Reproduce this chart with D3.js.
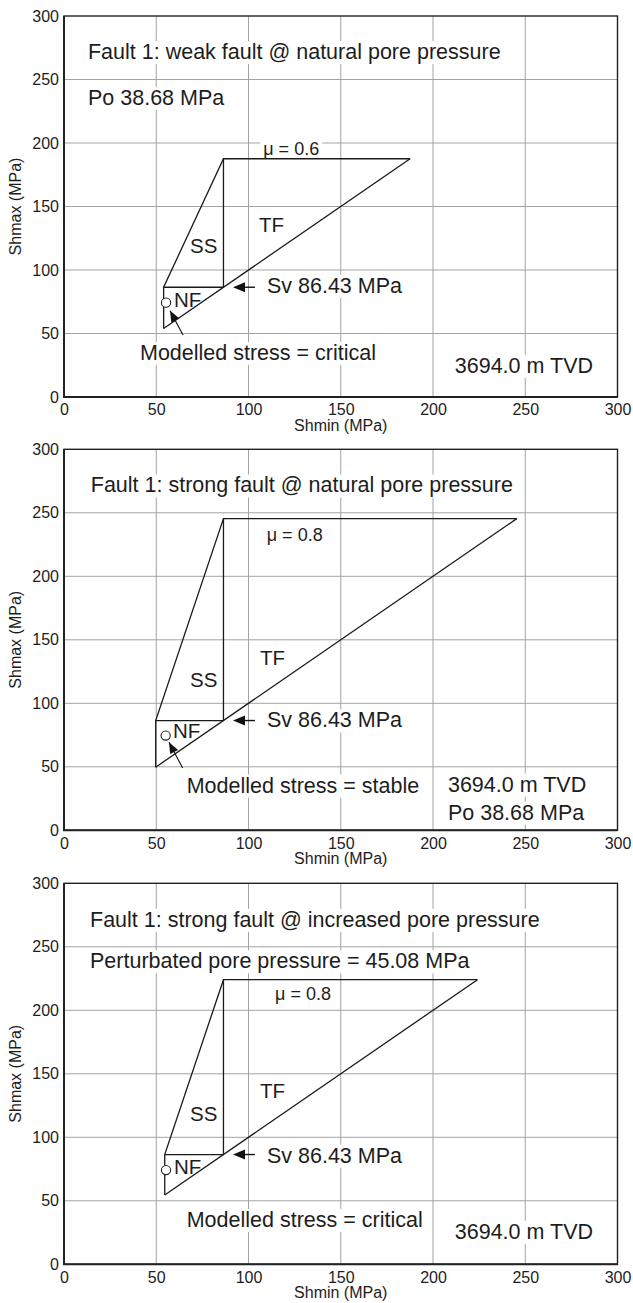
<!DOCTYPE html>
<html>
<head>
<meta charset="utf-8">
<script src="https://cdn.jsdelivr.net/npm/d3@7"></script>
<style>
  html, body { margin: 0; padding: 0; background: #ffffff; }
  svg text { font-family: "Liberation Sans", Arial, Helvetica, sans-serif; fill: #1d1d1d; }
</style>
</head>
<body>
<svg id="chart" width="633" height="1303"></svg>
<script>
// ---- data ----
const axisTicks = [0, 50, 100, 150, 200, 250, 300];
const panelTitles = [
  "Fault 1: weak fault @ natural pore pressure",
  "Fault 1: strong fault @ natural pore pressure",
  "Fault 1: strong fault @ increased pore pressure"
];
const frictionCoefficients = [0.6, 0.8, 0.8];
const porePressureNotes = [
  "Po 38.68 MPa",
  "Po 38.68 MPa",
  "Perturbated pore pressure = 45.08 MPa"
];
const verticalStress = 86.43;                 // Sv, MPa
const shminLowerLimit = [54.0, 49.7, 54.6];   // frictional limit, normal faulting
const shmaxUpperLimit = [187.6, 245.4, 224.1];// frictional limit, thrust faulting
const modelledShmin = [55.3, 55.1, 55.3];
const modelledShmax = [74.3, 74.6, 74.2];
const stressStates = ["critical", "stable", "critical"];
const depthLabel = "3694.0 m TVD";
const regimeNames = ["NF", "SS", "TF"];

// ---- layout (plot frames and label anchors in MPa units) ----
const plotLeft = 64, plotRight = 617.5, plotHeight = 381;
const panelTops = [16, 449.3, 883.3];
const labelAnchors = [
  { title: [13, 266], pore: [13, 230], mu: [108, 190.6], TF: [105.7, 130], SS: [68.3, 113.4], NF: [59.6, 71.1],
    sv: [110, 82], model: [41.2, 29.1], modelArrow: [[64.5, 48.8], [57.5, 68.0]], depth: [211.8, 18.9] },
  { title: [14.5, 266], pore: [208.1, 8.4], mu: [109.9, 227.6], TF: [106.2, 130.5], SS: [68.3, 113.1], NF: [59.1, 73],
    sv: [110, 81], model: [66.5, 29.7], modelArrow: [[64.3, 49.1], [56.9, 69.3]], depth: [208.1, 30.5] },
  { title: [14.1, 265.7], pore: [14.1, 233.1], mu: [114.4, 207.9], TF: [106.2, 131.3], SS: [68.3, 113.1], NF: [59.6, 71.3],
    sv: [110, 80], model: [66.5, 29.4], modelArrow: null, depth: [211.8, 20] }
];
const svArrowShmin = [103.5, 91.6]; // tail, tip

const svg = d3.select("#chart");
svg.append("rect").attr("width", 633).attr("height", 1303).attr("fill", "#ffffff");

function arrowHead(g, x1, y1, x2, y2, len, half) {
  const ang = Math.atan2(y2 - y1, x2 - x1);
  const bx = x2 - len * Math.cos(ang), by = y2 - len * Math.sin(ang);
  const px = -Math.sin(ang) * half, py = Math.cos(ang) * half;
  g.append("path")
    .attr("d", `M${x2},${y2}L${bx + px},${by + py}L${bx - px},${by - py}Z`)
    .attr("fill", "#111");
}

panelTops.forEach((top, i) => {
  const x = d3.scaleLinear().domain([0, 300]).range([plotLeft, plotRight]);
  const y = d3.scaleLinear().domain([0, 300]).range([top + plotHeight, top]);
  const g = svg.append("g");
  const gridLayer = g.append("g");
  const bgLayer = g.append("g");
  const markLayer = g.append("g");
  const frameLayer = g.append("g");
  const textLayer = g.append("g");

  // grid
  gridLayer.selectAll(".gx").data(axisTicks.slice(1, -1)).join("line")
    .attr("x1", d => x(d)).attr("x2", d => x(d))
    .attr("y1", y(0)).attr("y2", y(300))
    .attr("stroke", "#a3a3a3").attr("stroke-width", 1);
  gridLayer.selectAll(".gy").data(axisTicks.slice(1, -1)).join("line")
    .attr("y1", d => y(d)).attr("y2", d => y(d))
    .attr("x1", x(0)).attr("x2", x(300))
    .attr("stroke", "#a3a3a3").attr("stroke-width", 1);

  // axes (labels only, no tick marks)
  const xAxis = d3.axisBottom(x).tickValues(axisTicks).tickSize(0).tickPadding(7);
  const yAxis = d3.axisLeft(y).tickValues(axisTicks).tickSize(0).tickPadding(5);
  const xa = frameLayer.append("g").attr("transform", `translate(0,${y(0)})`).call(xAxis);
  const ya = frameLayer.append("g").attr("transform", `translate(${x(0)},0)`).call(yAxis);
  [xa, ya].forEach(a => {
    a.select(".domain").remove();
    a.selectAll("text").attr("font-size", 16).attr("fill", "#1d1d1d")
      .attr("font-family", '"Liberation Sans", Arial, sans-serif');
  });

  // frame
  frameLayer.append("rect")
    .attr("x", x(0)).attr("y", y(300)).attr("width", x(300) - x(0)).attr("height", y(0) - y(300))
    .attr("fill", "none").attr("stroke", "#222").attr("stroke-width", 1.4);
  frameLayer.append("path")
    .attr("d", `M${x(0)},${y(300)}V${y(0)}H${x(300)}`)
    .attr("fill", "none").attr("stroke", "#222").attr("stroke-width", 2);

  // axis titles
  textLayer.append("text").attr("x", x(150)).attr("y", y(0) + 34)
    .attr("text-anchor", "middle").attr("font-size", 16).text("Shmin (MPa)");
  textLayer.append("text")
    .attr("transform", `translate(21,${(y(0) + y(300)) / 2}) rotate(-90)`)
    .attr("text-anchor", "middle").attr("font-size", 16).text("Shmax (MPa)");

  // stress polygon
  const lo = shminLowerLimit[i], hi = shmaxUpperLimit[i], sv = verticalStress;
  const line = d3.line().x(d => x(d[0])).y(d => y(d[1]));
  const segments = [
    [[lo, lo], [hi, hi]],                     // Shmin = Shmax
    [[lo, lo], [lo, sv], [sv, hi], [hi, hi]], // NF limit, SS limit, TF limit
    [[lo, sv], [sv, sv]],                     // Shmax = Sv
    [[sv, sv], [sv, hi]]                      // Shmin = Sv
  ];
  segments.forEach(s => markLayer.append("path").attr("d", line(s))
    .attr("fill", "none").attr("stroke", "#1a1a1a").attr("stroke-width", 1.3)
    .attr("stroke-linejoin", "miter"));

  const A = labelAnchors[i];

  // Sv arrow
  const ax1 = x(svArrowShmin[0]), ax2 = x(svArrowShmin[1]), ay = y(sv);
  markLayer.append("line").attr("x1", ax1).attr("x2", ax2 + 8).attr("y1", ay).attr("y2", ay)
    .attr("stroke", "#111").attr("stroke-width", 1.4);
  arrowHead(markLayer, ax1, ay, ax2, ay, 12, 5);

  // modelled-stress arrow
  if (A.modelArrow) {
    const [p, q] = A.modelArrow;
    markLayer.append("line").attr("x1", x(p[0])).attr("y1", y(p[1]))
      .attr("x2", x(q[0])).attr("y2", y(q[1]))
      .attr("stroke", "#111").attr("stroke-width", 1.1);
    arrowHead(markLayer, x(p[0]), y(p[1]), x(q[0]), y(q[1]), 11, 4.5);
  }

  // modelled stress point
  markLayer.append("circle").attr("cx", x(modelledShmin[i])).attr("cy", y(modelledShmax[i]))
    .attr("r", 4.6).attr("fill", "#fff").attr("stroke", "#222").attr("stroke-width", 1.1);

  // annotations
  const labels = [
    { pos: A.title, text: panelTitles[i], size: 21.5 },
    { pos: A.pore, text: porePressureNotes[i], size: 21.5 },
    { pos: A.mu, text: "\u03bc = " + frictionCoefficients[i], size: 18 },
    { pos: A.TF, text: regimeNames[2], size: 20.5 },
    { pos: A.SS, text: regimeNames[1], size: 20.5 },
    { pos: A.NF, text: regimeNames[0], size: 20.5, plain: true },
    { pos: A.sv, text: "Sv " + verticalStress + " MPa", size: 21.5 },
    { pos: A.model, text: "Modelled stress = " + stressStates[i], size: 21.5 },
    { pos: A.depth, text: depthLabel, size: 21.5 }
  ];
  labels.forEach(l => {
    const t = textLayer.append("text").attr("x", x(l.pos[0])).attr("y", y(l.pos[1]))
      .attr("font-size", l.size).text(l.text);
    if (!l.plain) {
      const b = t.node().getBBox();
      bgLayer.append("rect").attr("x", b.x - 3).attr("y", b.y + 1)
        .attr("width", b.width + 6).attr("height", b.height - 1).attr("fill", "#fff");
    }
  });
});
</script>
</body>
</html>
